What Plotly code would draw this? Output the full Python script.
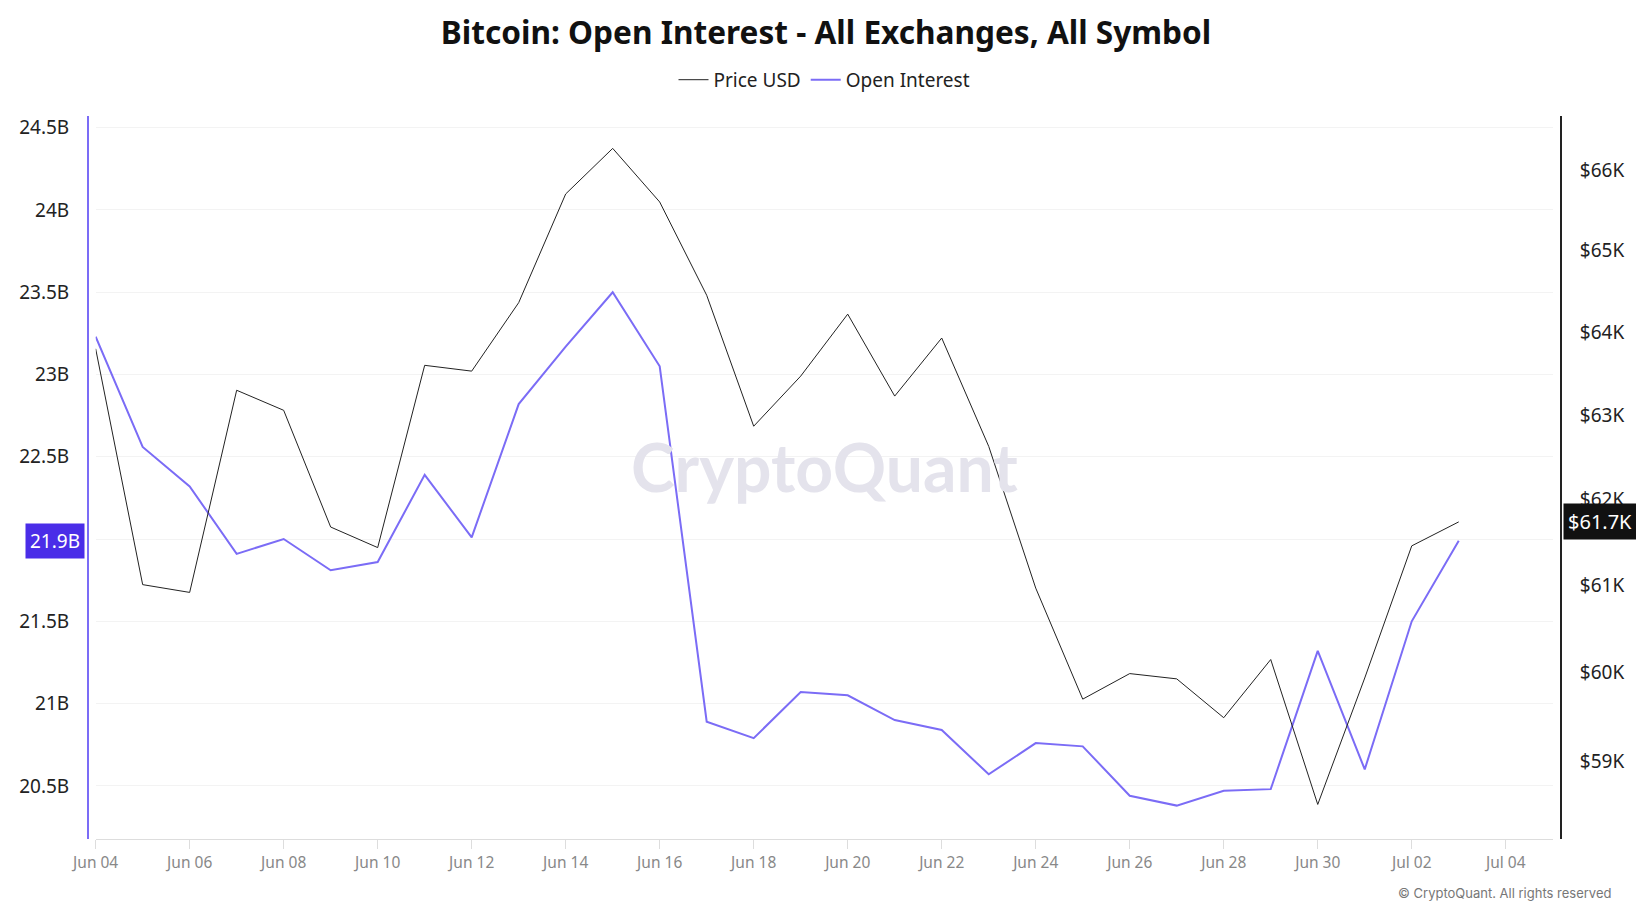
import math

import numpy as np
import plotly.graph_objects as go

# daily values, Jun 04 .. Jul 03
dates = [
    "2024-06-04", "2024-06-05", "2024-06-06", "2024-06-07", "2024-06-08",
    "2024-06-09", "2024-06-10", "2024-06-11", "2024-06-12", "2024-06-13",
    "2024-06-14", "2024-06-15", "2024-06-16", "2024-06-17", "2024-06-18",
    "2024-06-19", "2024-06-20", "2024-06-21", "2024-06-22", "2024-06-23",
    "2024-06-24", "2024-06-25", "2024-06-26", "2024-06-27", "2024-06-28",
    "2024-06-29", "2024-06-30", "2024-07-01", "2024-07-02", "2024-07-03",
]

# open interest, billions USD
open_interest = [
    23.23, 22.56, 22.32, 21.91, 22.00, 21.81, 21.86, 22.39, 22.01, 22.82,
    23.17, 23.50, 23.05, 20.89, 20.79, 21.07, 21.05, 20.90, 20.84, 20.57,
    20.76, 20.74, 20.44, 20.38, 20.47, 20.48, 21.32, 20.60, 21.50, 21.99,
]

# BTC price, USD
price_usd = [
    63800, 61010, 60920, 63300, 63060, 61680, 61440, 63600, 63530, 64360,
    65700, 66270, 65600, 64450, 62870, 63470, 64220, 63230, 63930, 62630,
    60970, 59700, 59990, 59930, 59490, 60150, 58520, 59940, 61460, 61740,
]

oi_ticks = [20.5, 21, 21.5, 22, 22.5, 23, 23.5, 24, 24.5]
oi_tick_text = ["20.5B", "21B", "21.5B", "", "22.5B", "23B", "23.5B", "24B", "24.5B"]
price_ticks = [59000, 60000, 61000, 62000, 63000, 64000, 65000, 66000]
price_tick_text = ["$59K", "$60K", "$61K", "$62K", "$63K", "$64K", "$65K", "$66K"]
x_ticks = ["2024-06-04", "2024-06-06", "2024-06-08", "2024-06-10", "2024-06-12",
           "2024-06-14", "2024-06-16", "2024-06-18", "2024-06-20", "2024-06-22",
           "2024-06-24", "2024-06-26", "2024-06-28", "2024-06-30", "2024-07-02",
           "2024-07-04"]

PURPLE = "#7b6cf6"
FONT = "Noto Sans"

fig = go.Figure()

fig.add_trace(go.Scatter(
    x=dates, y=price_usd, name="Price USD", mode="lines",
    line=dict(color="#222222", width=1), yaxis="y2",
))
fig.add_trace(go.Scatter(
    x=dates, y=open_interest, name="Open Interest", mode="lines",
    line=dict(color=PURPLE, width=2), yaxis="y",
))

# the page adds an 8px body margin, so the figure is 8px smaller than the window
fig.update_layout(
    width=1636, height=903,
    margin=dict(l=80, r=83, t=108, b=72),
    paper_bgcolor="white", plot_bgcolor="white",
    font=dict(family=FONT, color="#222222"),
    title=dict(
        text="<b>Bitcoin: Open Interest - All Exchanges, All Symbol</b>",
        x=0.5, xanchor="center", y=0.972, yanchor="middle",
        font=dict(size=31.6, color="#111111", family=FONT),
    ),
    showlegend=True,
    legend=dict(
        orientation="h", x=0.5, xanchor="center", y=1.05, yanchor="middle",
        font=dict(size=19, color="#222222"), itemwidth=30,
    ),
    xaxis=dict(
        domain=[0.0052, 0.9944],
        range=["2024-06-04", "2024-07-05"],
        tickvals=x_ticks, tickformat="%b %d",
        showgrid=False, zeroline=False,
        showline=True, linecolor="#dddddd", linewidth=1,
        ticks="outside", ticklen=9, tickcolor="#dddddd",
        tickfont=dict(size=15.5, color="#888888"),
    ),
    yaxis=dict(
        anchor="free", position=0, side="left",
        range=[20.177, 24.571],
        tickvals=oi_ticks, ticktext=oi_tick_text,
        showgrid=True, gridcolor="#f3f3f3", gridwidth=1, zeroline=False,
        showline=True, linecolor=PURPLE, linewidth=2,
        ticks="", ticklabelstandoff=14,
        tickfont=dict(size=19, color="#222222"),
    ),
    yaxis2=dict(
        anchor="free", position=1, side="right", overlaying="y",
        type="log", range=[math.log10(58138), math.log10(66678)],
        tickvals=price_ticks, ticktext=price_tick_text,
        showgrid=False, zeroline=False,
        showline=True, linecolor="#222222", linewidth=2,
        ticks="", ticklabelstandoff=14,
        tickfont=dict(size=19, color="#222222"),
    ),
)

# watermark
fig.add_annotation(
    text="<b>CryptoQuant</b>", xref="paper", yref="paper", x=0.5003, y=0.515,
    showarrow=False, font=dict(size=66, color="#e4e3ec", family="Lato"),
)

# current value badges
last_oi = math.floor(open_interest[-1] * 10) / 10
fig.add_annotation(
    text=f"{last_oi:.1f}B", xref="paper", yref="y", x=-0.002, y=open_interest[-1],
    xanchor="right", yanchor="middle", showarrow=False,
    font=dict(size=19, color="white"), bgcolor="#4a2de8", borderpad=4,
)
fig.add_annotation(
    text=f"${price_usd[-1] / 1000:.1f}K", xref="paper", yref="y2",
    x=1.0014, y=np.log10(price_usd[-1]),
    xanchor="left", yanchor="middle", showarrow=False,
    font=dict(size=20, color="white"), bgcolor="#111111", borderpad=4,
)

# footer
fig.add_annotation(
    text="© CryptoQuant. All rights reserved", xref="paper", yref="paper",
    x=1.0353, y=-0.074, xanchor="right", yanchor="middle", showarrow=False,
    font=dict(size=13, color="#777777", family="Inter"),
)

fig.write_html("out.html")
